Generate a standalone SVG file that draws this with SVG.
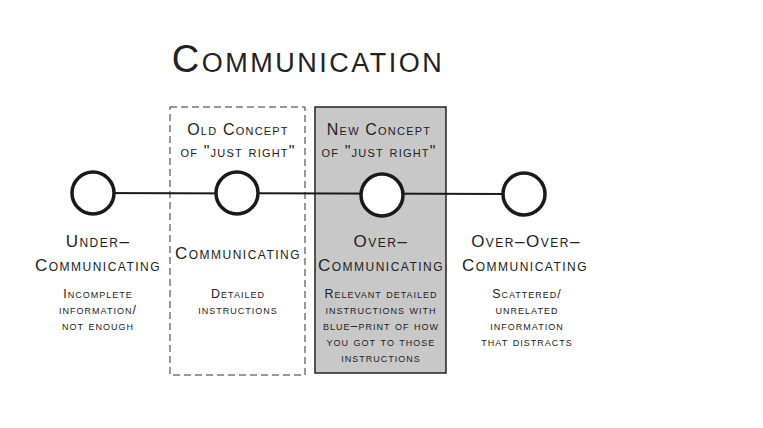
<svg xmlns="http://www.w3.org/2000/svg" width="763" height="428" viewBox="0 0 763 428">
<style>
text{font-family:"Liberation Sans","DejaVu Sans",sans-serif;font-variant:small-caps;fill:#222;text-anchor:middle}
.title{font-size:38px;letter-spacing:2.5px}
.hd{font-size:16px;letter-spacing:1.2px}
.lb{font-size:17px;letter-spacing:1.5px}
.ds{font-size:12.5px;letter-spacing:1px}
.node{fill:#fff;stroke:#1a1a1a;stroke-width:3.5}
.conn{stroke:#1a1a1a;stroke-width:2;fill:none}
</style>
<rect width="763" height="428" fill="#fff"/>
<text class="title" x="308" y="72">Communication</text>
<g id="old-box">
<rect x="170" y="107" width="135" height="268" fill="none" stroke="#333" stroke-width="1" stroke-dasharray="7,4"/>
<text class="hd" x="238" y="135">Old Concept</text>
<text class="hd" x="238" y="157">of "just right"</text>
</g>
<g id="new-box">
<rect x="315" y="107" width="131" height="266" fill="#c8c8c8" stroke="#222" stroke-width="1.5"/>
<text class="hd" x="379" y="135">New Concept</text>
<text class="hd" x="379" y="157">of "just right"</text>
</g>
<g id="connectors">
<line class="conn" x1="93" y1="193" x2="524" y2="194"/>
</g>
<g id="under">
<circle class="node" cx="93" cy="193" r="21"/>
<text class="lb" x="98" y="247">Under–</text>
<text class="lb" x="98" y="271">Communicating</text>
<text class="ds" x="98" y="298">Incomplete</text>
<text class="ds" x="98" y="314">information/</text>
<text class="ds" x="98" y="330">not enough</text>
</g>
<g id="communicating">
<circle class="node" cx="237" cy="193" r="21"/>
<text class="lb" x="238" y="259">Communicating</text>
<text class="ds" x="238" y="298">Detailed</text>
<text class="ds" x="238" y="314">instructions</text>
</g>
<g id="over">
<circle class="node" cx="382" cy="195" r="21"/>
<text class="lb" x="381" y="247">Over–</text>
<text class="lb" x="381" y="271">Communicating</text>
<text class="ds" x="381" y="298">Relevant detailed</text>
<text class="ds" x="381" y="314">instructions with</text>
<text class="ds" x="381" y="330">blue–print of how</text>
<text class="ds" x="381" y="346">you got to those</text>
<text class="ds" x="381" y="362">instructions</text>
</g>
<g id="over-over">
<circle class="node" cx="524" cy="194" r="21"/>
<text class="lb" x="526" y="247">Over–Over–</text>
<text class="lb" x="525" y="271">Communicating</text>
<text class="ds" x="527" y="298">Scattered/</text>
<text class="ds" x="527" y="314">unrelated</text>
<text class="ds" x="527" y="330">information</text>
<text class="ds" x="527" y="346">that distracts</text>
</g>
</svg>
